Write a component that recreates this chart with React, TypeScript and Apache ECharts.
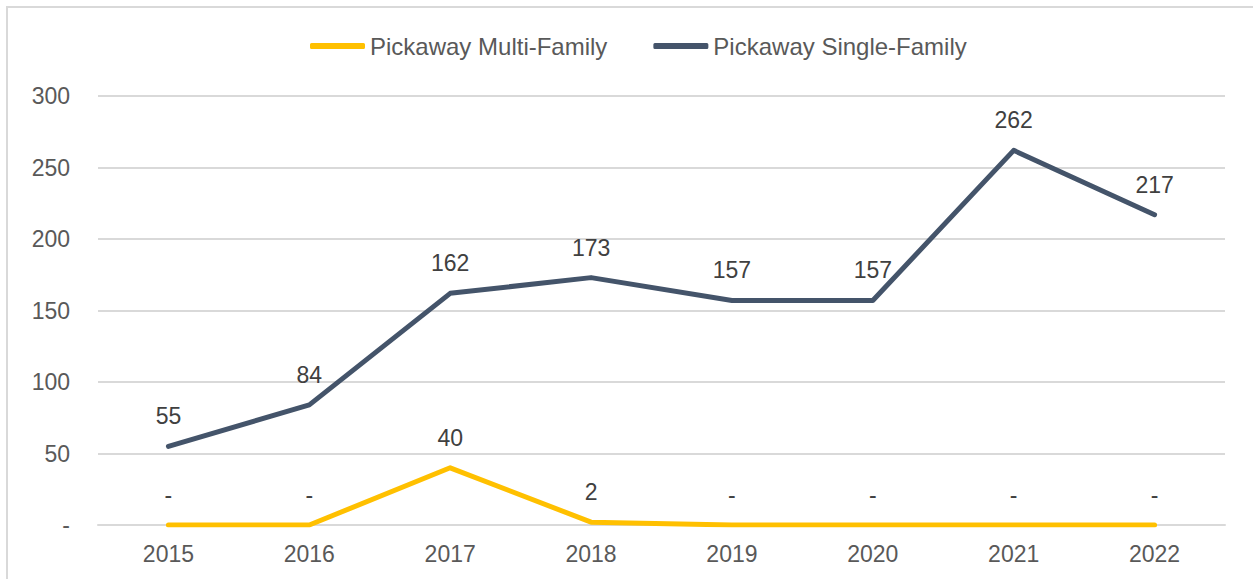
import React, { useEffect, useRef } from "react";
import * as echarts from "echarts";

const years = ["2015", "2016", "2017", "2018", "2019", "2020", "2021", "2022"];
const multiFamily = [0, 0, 40, 2, 0, 0, 0, 0];
const singleFamily = [55, 84, 162, 173, 157, 157, 262, 217];
const seriesNames = ["Pickaway Multi-Family", "Pickaway Single-Family"];
const seriesColors = ["#FFC000", "#44546A"];

const FONT = "'Liberation Sans', Arial, sans-serif";

export default function App() {
  const ref = useRef<HTMLDivElement>(null);
  useEffect(() => {
    if (!ref.current) return;
    const chart = echarts.init(ref.current, undefined, { renderer: "svg" });
    const label = {
      show: true,
      position: "top",
      distance: 18,
      color: "#404040",
      fontSize: 23,
      fontFamily: FONT,
      formatter: (p: any) => (p.value === 0 ? "-" : String(p.value)),
    };
    const mkSeries = (i: number, data: number[]) => ({
      name: seriesNames[i],
      type: "line",
      data,
      symbol: "circle",
      symbolSize: 1,
      showSymbol: true,
      lineStyle: { color: seriesColors[i], width: 5, cap: "round", join: "round" },
      itemStyle: { color: seriesColors[i] },
      label,
    });
    chart.setOption({
      animation: false,
      textStyle: { fontFamily: FONT },
      legend: {
        top: 29,
        left: 305,
        itemWidth: 55,
        itemHeight: 6,
        itemGap: 46,
        icon: "roundRect",
        textStyle: { color: "#595959", fontSize: 24, fontFamily: FONT },
        data: seriesNames,
      },
      grid: { left: 98, right: 28, top: 96, bottom: 54, containLabel: false },
      xAxis: {
        type: "category",
        data: years,
        boundaryGap: true,
        axisLine: { show: true, lineStyle: { color: "#d9d9d9", width: 2 } },
        axisTick: { show: false },
        axisLabel: { color: "#595959", fontSize: 23, margin: 17, fontFamily: FONT },
      },
      yAxis: {
        type: "value",
        min: 0,
        max: 300,
        interval: 50,
        axisLine: { show: false },
        axisTick: { show: false },
        splitLine: { lineStyle: { color: "#d9d9d9", width: 2 } },
        axisLabel: {
          color: "#595959",
          fontSize: 23,
          margin: 28,
          fontFamily: FONT,
          formatter: (v: number) => (v === 0 ? "-" : String(v)),
        },
      },
      series: [mkSeries(0, multiFamily), mkSeries(1, singleFamily)],
    });
    return () => chart.dispose();
  }, []);
  return (
    <div style={{ position: "absolute", left: 0, top: 0, width: 1253, height: 579, overflow: "hidden", background: "#fff" }}>
      <div
        style={{
          position: "absolute",
          left: 6,
          top: 6,
          width: 1300,
          height: 620,
          border: "2px solid #d9d9d9",
        }}
      />
      <div ref={ref} style={{ position: "absolute", left: 0, top: 0, width: 1253, height: 579 }} />
    </div>
  );
}
